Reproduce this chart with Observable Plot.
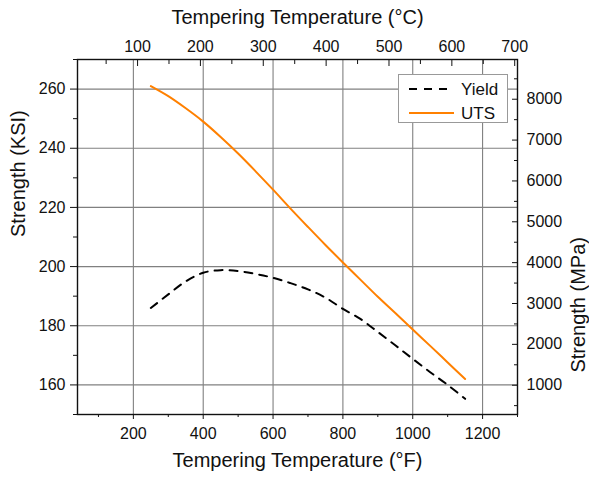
<!DOCTYPE html>
<html><head><meta charset="utf-8">
<script src="https://cdn.jsdelivr.net/npm/d3@7"></script>
<script src="https://cdn.jsdelivr.net/npm/@observablehq/plot@0.6"></script>
<style>
body{margin:0;background:#fff;}
#wrap{position:relative;width:589px;height:477px;font-family:"Liberation Sans",Arial,sans-serif;}
#legend{position:absolute;left:398px;top:74px;width:110px;height:49px;border:1px solid #999;background:#fff;box-sizing:border-box;}
#legend svg{position:absolute;left:0;top:0;}
</style></head><body><div id="wrap"><div id="legend"></div></div>
<script>
// Tempering temperature (°F)
const tempF = [250,300,350,400,450,500,550,600,650,700,750,800,850,900,950,1000,1050,1100,1150];
// Yield strength (KSI)
const yieldKsi = [186,190.6,195,197.9,198.8,198.5,197.5,196.2,194.4,192.3,189.5,185.7,182.3,177.9,173.4,168.8,164.3,160,155.3];
// Ultimate tensile strength (KSI)
const utsKsi = [261,257.6,253.5,249,243.8,238.2,232.2,226,219.6,213.4,207.3,201.4,195.6,189.8,184.3,178.7,173.2,167.6,162];

const fMajor = [200,400,600,800,1000,1200];
const fMinor = [100,300,500,700,900,1100,1300];
const ksiMajor = [160,180,200,220,240,260];
const ksiMinor = [150,170,190,210,230,250,270];
const cMajor = [100,200,300,400,500,600,700];
const cMinor = [50,150,250,350,450,550,650];
const mpaMajor = [1000,2000,3000,4000,5000,6000,7000,8000];
const mpaMinor = [500,1500,2500,3500,4500,5500,6500,7500,8500];

const seriesNames = ["Yield","UTS"];
const seriesColors = ["#000000","#ff8000"];

const cToF = c => c * 9 / 5 + 32;
const mpaToKsi = m => 159.9 + (m - 1000) * 0.01381;

const data = tempF.map((f, i) => ({F: f, yld: yieldKsi[i], uts: utsKsi[i]}));
const font = "Liberation Sans, Arial, sans-serif";
const tickCol = "#111";

const chart = Plot.plot({
  width: 589, height: 477,
  marginLeft: 77, marginRight: 72, marginTop: 59, marginBottom: 63,
  style: {fontFamily: font, background: "#fff", color: "#111"},
  x: {domain: [40, 1300]},
  y: {domain: [150, 270]},
  marks: [
    Plot.gridX(fMajor, {stroke: "#808080", strokeOpacity: 1, strokeWidth: 1.1}),
    Plot.gridY(ksiMajor, {stroke: "#808080", strokeOpacity: 1, strokeWidth: 1.1}),
    Plot.line(data, {x: "F", y: "yld", stroke: seriesColors[0], strokeWidth: 2, strokeDasharray: "8,7", curve: "catmull-rom"}),
    Plot.line(data, {x: "F", y: "uts", stroke: seriesColors[1], strokeWidth: 2, curve: "catmull-rom"}),
    Plot.frame({stroke: "#111", strokeWidth: 1.4}),
    // bottom °F axis
    Plot.axisX(fMajor, {anchor: "bottom", tickSize: 5, tickPadding: 8, fontSize: 16, label: null, stroke: tickCol,
      tickFormat: d => String(d)}),
    Plot.axisX(fMinor, {anchor: "bottom", tickSize: 3, tickFormat: () => "", label: null, stroke: tickCol}),
    // left KSI axis
    Plot.axisY(ksiMajor, {anchor: "left", tickSize: 7, tickPadding: 5, fontSize: 16, label: null, stroke: tickCol,
      tickFormat: d => String(d)}),
    Plot.axisY(ksiMinor, {anchor: "left", tickSize: 4, tickFormat: () => "", label: null, stroke: tickCol}),
    // top °C axis (inward ticks)
    Plot.axisX(cMajor.map(cToF), {anchor: "top", tickSize: -6, tickFormat: () => "", label: null, stroke: tickCol}),
    Plot.axisX(cMinor.map(cToF), {anchor: "top", tickSize: -4, tickFormat: () => "", label: null, stroke: tickCol}),
    Plot.axisX(cMajor.map(cToF), {anchor: "top", tickSize: 0, tickPadding: 8, fontSize: 16, label: null,
      tickFormat: (d, i) => String(cMajor[i])}),
    // right MPa axis (inward ticks)
    Plot.axisY(mpaMajor.map(mpaToKsi), {anchor: "right", tickSize: -6, tickFormat: () => "", label: null, stroke: tickCol}),
    Plot.axisY(mpaMinor.map(mpaToKsi), {anchor: "right", tickSize: -4, tickFormat: () => "", label: null, stroke: tickCol}),
    Plot.axisY(mpaMajor.map(mpaToKsi), {anchor: "right", tickSize: 0, tickPadding: 9, fontSize: 16, label: null,
      tickFormat: (d, i) => String(mpaMajor[i])}),
    // axis titles
    Plot.text(["Tempering Temperature (°C)"], {frameAnchor: "top", dy: -36, fontSize: 20, lineAnchor: "bottom", fill: "#111"}),
    Plot.text(["Tempering Temperature (°F)"], {frameAnchor: "bottom", dy: 38, fontSize: 20, lineAnchor: "top", fill: "#111"}),
    Plot.text(["Strength (KSI)"], {frameAnchor: "left", dx: -59, rotate: -90, fontSize: 20, fill: "#111"}),
    Plot.text(["Strength (MPa)"], {frameAnchor: "right", dx: 61, rotate: -90, fontSize: 20, fill: "#111"})
  ]
});
document.getElementById("wrap").prepend(chart);

// legend
const lg = d3.select("#legend").append("svg").attr("width", 110).attr("height", 49);
seriesNames.forEach((name, i) => {
  const yy = 14 + i * 24;
  lg.append("line").attr("x1", 10).attr("x2", 55).attr("y1", yy).attr("y2", yy)
    .attr("stroke", seriesColors[i]).attr("stroke-width", 2)
    .attr("stroke-dasharray", i === 0 ? "8,7" : null);
  lg.append("text").attr("x", 62).attr("y", yy + 6).text(name)
    .attr("font-family", font).attr("font-size", 17).attr("fill", "#111");
});
</script>
</body></html>
